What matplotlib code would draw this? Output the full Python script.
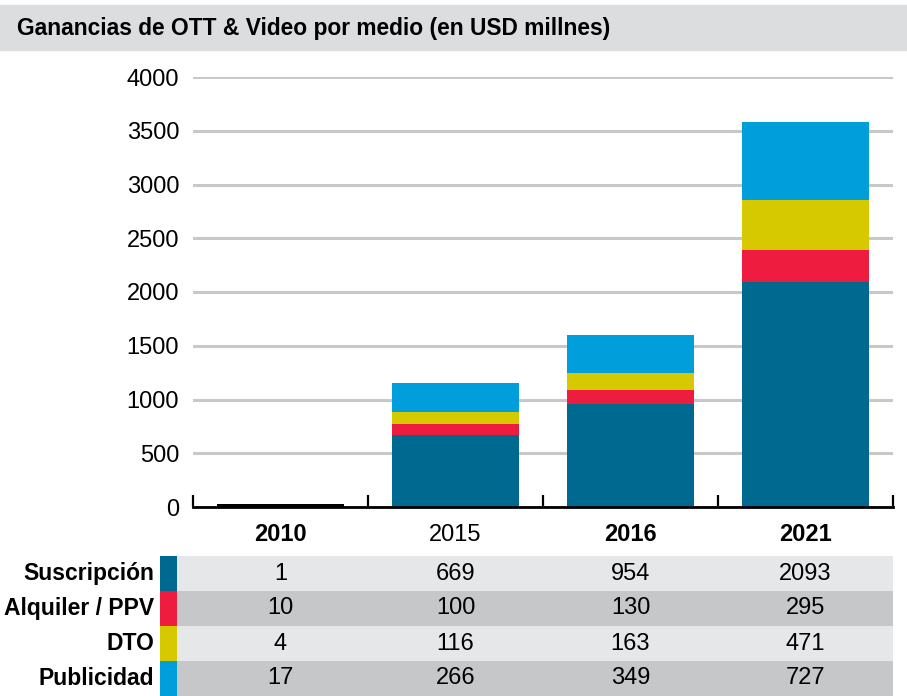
import matplotlib.pyplot as plt
from matplotlib.patches import Rectangle

# data
years = ['2010', '2015', '2016', '2021']
year_bold = [True, False, True, True]
series = ['Suscripción', 'Alquiler / PPV', 'DTO', 'Publicidad']
suscripcion = [1, 669, 954, 2093]
alquiler = [10, 100, 130, 295]
dto = [4, 116, 163, 471]
publicidad = [17, 266, 349, 727]
values = [suscripcion, alquiler, dto, publicidad]
colors = ['#00698f', '#ee1c3f', '#d7c900', '#009edb']
yticks = [0, 500, 1000, 1500, 2000, 2500, 3000, 3500, 4000]

plt.rcParams['font.family'] = ['Liberation Sans', 'DejaVu Sans']

W, H = 907, 696
fig = plt.figure(figsize=(W / 100, H / 100), dpi=100)

# title band
fig.patches.append(Rectangle((0, 1 - 50 / H), 1, 45 / H, transform=fig.transFigure,
                             color='#dcdddf', zorder=0))
fig.text(17 / W, 1 - 29 / H, 'Ganancias de OTT & Video por medio (en USD millnes)',
         weight='bold', fontsize=16.4, va='center', ha='left')

# chart
ax = fig.add_axes([193 / W, 1 - 507 / H, 700 / W, 430 / H])
x = range(len(years))
bottom = [0] * len(years)
for vals, c in zip(values, colors):
    # the 2010 column is drawn in black in the original
    cols = ['black'] + [c] * (len(years) - 1)
    ax.bar(x, vals, bottom=bottom, width=0.73, color=cols, zorder=3)
    bottom = [b + v for b, v in zip(bottom, vals)]

ax.set_xlim(-0.5, 3.5)
ax.set_ylim(0, 4000)
ax.set_yticks(yticks)
ax.set_yticklabels([str(t) for t in yticks], fontsize=17)
ax.tick_params(axis='y', length=0, pad=10)
ax.yaxis.grid(True, color='#c8c8c8', linewidth=2.2, zorder=0)
ax.set_axisbelow(True)
for s in ['top', 'right', 'left']:
    ax.spines[s].set_visible(False)
ax.spines['bottom'].set_linewidth(2)
ax.spines['bottom'].set_zorder(5)

# year labels on a common baseline under the axis
ax.set_xticks(list(x))
ax.set_xticklabels([])
ax.tick_params(axis='x', which='major', length=0)
for j, (yr, b) in enumerate(zip(years, year_bold)):
    ax.text(j, -34 / 430, yr, transform=ax.get_xaxis_transform(), ha='center',
            va='baseline', fontsize=17, weight='bold' if b else 'normal')
ax.set_xticks([-0.5, 0.5, 1.5, 2.5, 3.5], minor=True)
ax.tick_params(axis='x', which='minor', direction='in', length=9, width=1.6, color='black')

# table below the chart
tab = fig.add_axes([193 / W, 0, 700 / W, 140 / H])
tab.set_xlim(-0.5, 3.5)
tab.set_ylim(4, 0)
tab.axis('off')
row_bg = ['#e6e7e8', '#c6c7c8', '#e6e7e8', '#c6c7c8']
sw_l, sw_r = -0.5 - 33 / 175, -0.5 - 16 / 175
for i, (name, vals) in enumerate(zip(series, values)):
    tab.add_patch(Rectangle((sw_r, i), 3.5 - sw_r, 1, color=row_bg[i], clip_on=False, lw=0))
    tab.add_patch(Rectangle((sw_l, i), sw_r - sw_l, 1, color=colors[i], clip_on=False, lw=0))
    tab.text(sw_l - 6 / 175, i + 0.5, name, ha='right', va='center', fontsize=16.5,
             weight='bold', clip_on=False)
    for j, v in enumerate(vals):
        tab.text(j, i + 0.5, str(v), ha='center', va='center', fontsize=17)

fig.savefig('out.png', dpi=100)
